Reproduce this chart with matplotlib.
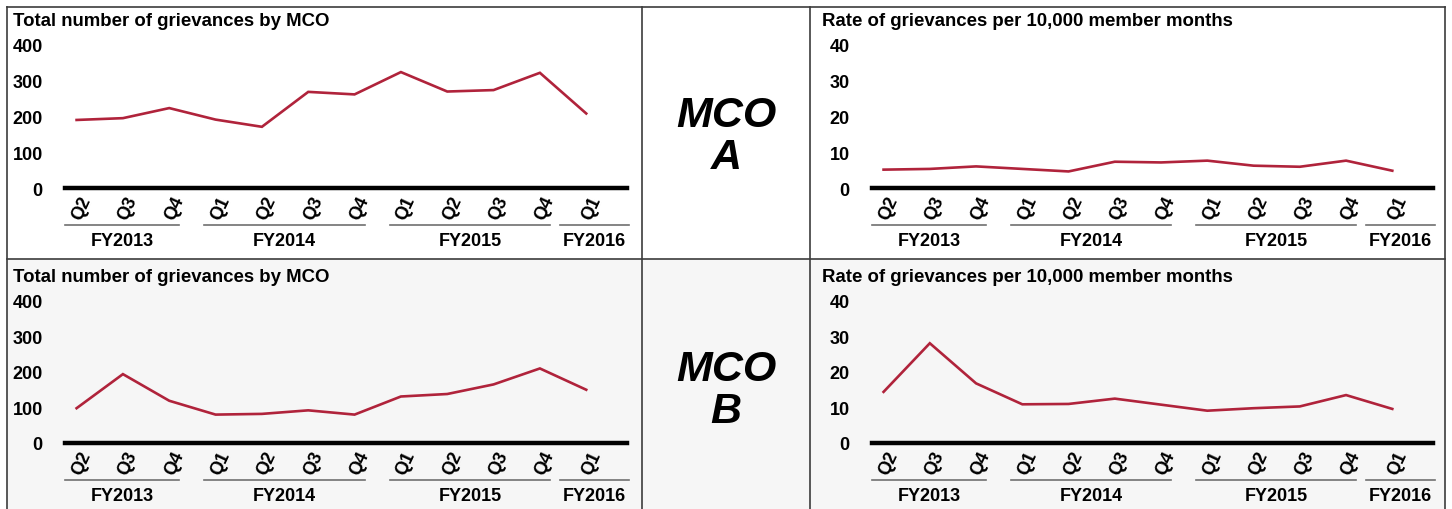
import matplotlib
matplotlib.use("Agg")
import matplotlib.pyplot as plt
from matplotlib.patches import Rectangle
from matplotlib.lines import Line2D
from matplotlib.transforms import ScaledTranslation

plt.rcParams['font.family'] = ['Liberation Sans', 'DejaVu Sans']
plt.rcParams['font.weight'] = 'bold'

# data
quarters = ['Q2', 'Q3', 'Q4', 'Q1', 'Q2', 'Q3', 'Q4', 'Q1', 'Q2', 'Q3', 'Q4', 'Q1']
fiscal_years = ['FY2013', 'FY2014', 'FY2015', 'FY2016']
fy_counts = [3, 4, 4, 1]

mco_a_total = [189, 194, 222, 190, 170, 267, 260, 322, 268, 272, 320, 207]
mco_a_rate = [5.1, 5.3, 6.0, 5.3, 4.6, 7.3, 7.1, 7.6, 6.2, 5.9, 7.6, 4.8]
mco_b_total = [98, 194, 119, 80, 82, 92, 80, 131, 138, 165, 210, 150]
mco_b_rate = [14.4, 28.1, 16.8, 10.9, 11.0, 12.5, 10.8, 9.1, 9.8, 10.3, 13.5, 9.6]

title_total = 'Total number of grievances by MCO'
title_rate = 'Rate of grievances per 10,000 member months'
row_labels = ['MCO\nA', 'MCO\nB']

W, H = 1452, 510
LINE_COLOR = '#b0233b'
BORDER = '#3c3c3c'

fig = plt.figure(figsize=(W / 100, H / 100), dpi=100)


def fx(x):
    return x / W


def fy(y):
    return 1 - y / H


# table background and borders
fig.patches.append(Rectangle((fx(7), fy(510)), fx(1445) - fx(7), fy(260) - fy(510),
                             transform=fig.transFigure, facecolor='#f6f6f6',
                             edgecolor='none', zorder=-5))
for y in [8, 260]:
    fig.lines.append(Line2D([fx(7), fx(1445)], [fy(y), fy(y)], transform=fig.transFigure,
                            color=BORDER, lw=1.2, zorder=-4))
for x in [7, 642, 810, 1445]:
    fig.lines.append(Line2D([fx(x), fx(x)], [fy(8), fy(510)], transform=fig.transFigure,
                            color=BORDER, lw=1.2, zorder=-4))


def make_panel(left, right, top, bottom, values, ymax, title):
    ax = fig.add_axes([fx(left), fy(bottom), fx(right) - fx(left), fy(top) - fy(bottom)])
    ax.set_facecolor('none')
    h_px = bottom - top
    x = list(range(len(values)))
    ax.plot(x, values, color=LINE_COLOR, lw=1.9, solid_joinstyle='miter')
    ax.set_xlim(-0.25, 11.88)
    ax.set_ylim(0, ymax)
    ax.set_yticks([ymax * i / 4 for i in range(5)])
    ax.set_yticklabels([f'{int(ymax * i / 4)}' for i in range(5)], fontsize=13, fontweight='bold')
    ax.set_xticks([])
    ax.tick_params(axis='y', length=0, pad=16)
    for s in ['left', 'right', 'top']:
        ax.spines[s].set_visible(False)
    ax.spines['bottom'].set_linewidth(3.2)
    ax.spines['bottom'].set_color('black')

    # quarter labels, a little right of the category like excel does
    shift = ScaledTranslation(0.05, 0, fig.dpi_scale_trans)
    for i, q in enumerate(quarters):
        ax.text(i, -5 / h_px, q, transform=ax.get_xaxis_transform() + shift,
                rotation=65, ha='center', va='top', fontsize=13, fontweight='bold')

    # fiscal year groups
    line_y = -37 / h_px
    label_y = -53 / h_px
    start = 0
    for i, (fy_name, n) in enumerate(zip(fiscal_years, fy_counts)):
        x0 = start - 0.24
        x1 = start + n - 1 + 0.22
        if i == len(fiscal_years) - 1:
            x0 = start - 0.57
            x1 = 11.92
        ax.plot([x0, x1], [line_y, line_y], color='#707070', lw=1.2,
                transform=ax.get_xaxis_transform(), clip_on=False)
        ax.text((x0 + x1) / 2, label_y, fy_name, transform=ax.get_xaxis_transform(),
                ha='center', va='center', fontsize=13, fontweight='bold')
        start += n

    ax.text(fx(left - 52 if left < 400 else left - 50), fy(top - 24), title,
            transform=fig.transFigure, ha='left', va='center', fontsize=13.4,
            fontweight='bold')
    return ax


make_panel(65, 627, 45, 189, mco_a_total, 400, title_total)
make_panel(872, 1433, 45, 189, mco_a_rate, 40, title_rate)
make_panel(65, 627, 302, 444, mco_b_total, 400, title_total)
make_panel(872, 1433, 302, 444, mco_b_rate, 40, title_rate)

for label, yc in zip(row_labels, [137, 391]):
    fig.text(fx(726), fy(yc), label, ha='center', va='center', fontsize=31,
             fontweight='bold', fontstyle='italic', linespacing=1.05)

fig.savefig('out.png', dpi=100)
